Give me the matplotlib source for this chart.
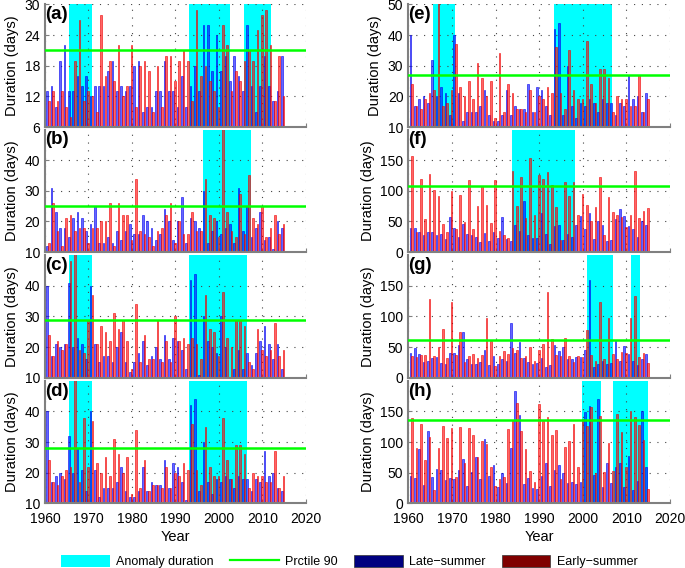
import numpy as np
import matplotlib.pyplot as plt
from matplotlib.patches import Patch
from matplotlib.lines import Line2D

plt.rcParams['font.family'] = ['Liberation Sans', 'DejaVu Sans']

years = np.arange(1961, 2016)

# (a)
a_late = [13, 14, 10, 19, 22, 13, 13, 16, 14, 16, 12, 14, 14, 14, 17, 19, 13, 14, 13, 14, 18, 19, 9, 10, 10,
          13, 13, 19, 13, 13, 10, 16, 10, 14, 18, 13, 26, 26, 17, 24, 17, 20, 15, 20, 16, 13, 26, 14, 9, 14,
          20, 14, 11, 13, 20]
a_early = [11, 13, 11, 13, 10, 8, 19, 27, 11, 13, 12, 9, 28, 16, 19, 15, 22, 12, 14, 22, 10, 18, 19, 17, 9,
           18, 10, 20, 20, 15, 19, 21, 19, 11, 29, 16, 18, 15, 13, 10, 26, 22, 13, 17, 15, 19, 21, 19, 25, 28,
           29, 22, 11, 20, 12]
a_p90 = 21
a_anom = [(1965.6, 1970.85), (1993.2, 2002.5), (2005.85, 2012.0)]

# (b)
b_late = [12, 31, 23, 18, 18, 15, 21, 23, 21, 17, 19, 25, 13, 13, 15, 13, 17, 14, 17, 19, 16, 16, 22, 20, 18,
          14, 16, 24, 20, 14, 20, 28, 13, 21, 20, 18, 30, 13, 17, 20, 16, 18, 19, 13, 31, 17, 25, 15, 18, 23,
          14, 15, 11, 20, 18]
b_early = [13, 26, 17, 12, 21, 22, 17, 18, 18, 13, 18, 18, 20, 20, 26, 12, 26, 22, 22, 14, 34, 17, 16, 15, 12,
           17, 18, 22, 26, 13, 20, 16, 16, 23, 17, 17, 34, 22, 21, 15, 55, 23, 17, 15, 29, 16, 35, 21, 19, 25,
           15, 18, 22, 16, 19]
b_p90 = 25
b_anom = [(1996.3, 2007.4)]

# (c)
c_late = [40, 17, 21, 20, 21, 41, 20, 23, 21, 16, 40, 21, 15, 17, 17, 15, 20, 25, 15, 12, 15, 18, 22, 14, 17,
          20, 16, 24, 16, 23, 22, 19, 13, 42, 44, 11, 30, 22, 20, 18, 30, 20, 10, 13, 19, 13, 18, 14, 18, 22,
          27, 21, 16, 21, 13]
c_early = [24, 17, 22, 19, 21, 48, 52, 19, 18, 29, 37, 21, 27, 25, 22, 31, 26, 29, 22, 13, 34, 15, 24, 16, 16,
           29, 15, 22, 15, 30, 22, 23, 21, 23, 21, 16, 37, 26, 25, 17, 38, 23, 20, 29, 29, 27, 15, 13, 26, 19,
           17, 19, 28, 17, 19]
c_p90 = 29
c_anom = [(1965.6, 1970.8), (1993.2, 2006.5)]

# (d)
d_late = [40, 17, 19, 20, 18, 32, 20, 28, 21, 14, 40, 21, 12, 15, 15, 15, 17, 22, 14, 12, 12, 14, 22, 14, 17,
          16, 16, 24, 15, 23, 22, 17, 11, 42, 44, 14, 30, 17, 13, 18, 17, 19, 18, 15, 19, 18, 18, 14, 18, 17,
          27, 19, 20, 15, 14]
d_early = [24, 17, 16, 19, 21, 22, 52, 17, 38, 22, 37, 23, 20, 25, 19, 31, 26, 20, 25, 13, 34, 15, 24, 14, 16,
           16, 15, 22, 15, 20, 19, 23, 21, 36, 21, 16, 35, 22, 19, 19, 38, 24, 18, 29, 29, 26, 15, 20, 19, 19,
           17, 17, 27, 15, 19]
d_p90 = 28
d_anom = [(1965.6, 1970.8), (1993.2, 2006.5)]

# (e)
e_late = [40, 17, 19, 20, 18, 32, 20, 23, 21, 14, 40, 21, 12, 15, 15, 15, 17, 22, 14, 12, 12, 14, 22, 14, 17,
          16, 16, 24, 15, 23, 22, 17, 14, 42, 44, 14, 30, 17, 13, 18, 17, 19, 18, 15, 19, 18, 18, 14, 18, 17,
          27, 19, 20, 15, 21]
e_early = [24, 17, 16, 19, 21, 22, 52, 17, 18, 22, 37, 23, 20, 25, 19, 31, 26, 20, 25, 13, 34, 15, 24, 21, 16,
           16, 15, 22, 15, 20, 19, 23, 21, 36, 21, 16, 35, 22, 19, 19, 38, 24, 18, 29, 29, 26, 15, 20, 19, 19,
           17, 17, 27, 15, 19]
e_p90 = 27
e_anom = [(1965.7, 1970.8), (1993.3, 2006.6)]

# (f)
f_late = [40, 40, 32, 28, 33, 32, 27, 30, 22, 57, 40, 25, 46, 30, 28, 24, 17, 31, 18, 32, 23, 57, 22, 18, 44,
          35, 83, 27, 23, 23, 63, 30, 13, 42, 44, 20, 30, 25, 44, 59, 38, 63, 22, 50, 44, 18, 20, 54, 70, 59,
          43, 37, 24, 50, 44]
f_early = [156, 33, 119, 54, 127, 102, 92, 45, 32, 100, 37, 93, 49, 118, 37, 75, 107, 77, 48, 118, 34, 28, 23,
           133, 75, 122, 56, 153, 60, 125, 120, 130, 110, 73, 20, 114, 91, 115, 60, 95, 76, 50, 73, 123, 28,
           90, 66, 60, 57, 41, 61, 133, 55, 67, 72]
f_p90 = 107
f_anom = [(1983.8, 1998.1)]

# (g)
g_late = [41, 48, 39, 26, 27, 33, 34, 24, 23, 40, 40, 54, 75, 31, 22, 23, 25, 46, 20, 36, 22, 30, 27, 90, 40,
          58, 33, 25, 22, 24, 33, 17, 21, 54, 44, 50, 31, 30, 34, 34, 46, 160, 17, 23, 27, 22, 24, 60, 27, 52,
          39, 27, 21, 31, 39]
g_early = [35, 34, 37, 37, 128, 36, 50, 79, 33, 123, 37, 74, 26, 35, 38, 33, 37, 97, 60, 19, 35, 43, 38, 48, 46,
           33, 36, 50, 27, 45, 55, 140, 64, 37, 35, 65, 36, 25, 36, 34, 78, 37, 27, 124, 31, 98, 38, 30, 42, 40,
           98, 133, 34, 40, 24]
g_p90 = 62
g_anom = [(2000.9, 2007.0), (2011.0, 2013.1)]

# (h)
h_late = [45, 42, 89, 30, 118, 43, 56, 55, 38, 41, 40, 54, 73, 29, 51, 75, 40, 105, 44, 63, 26, 50, 33, 90, 183,
          144, 32, 42, 25, 24, 44, 65, 29, 54, 62, 50, 33, 35, 31, 34, 149, 159, 47, 171, 26, 66, 33, 59, 65,
          27, 77, 21, 37, 150, 59]
h_early = [140, 91, 129, 71, 108, 21, 91, 127, 106, 123, 43, 124, 65, 123, 111, 75, 102, 97, 60, 29, 39, 43, 122,
           136, 163, 118, 89, 52, 35, 162, 135, 141, 111, 119, 39, 92, 101, 130, 60, 137, 127, 157, 49, 143, 51,
           98, 52, 145, 117, 60, 150, 141, 128, 104, 23]
h_p90 = 136
h_anom = [(1999.9, 2004.1), (2007.0, 2015.0)]

xticks = [1960, 1970, 1980, 1990, 2000, 2010, 2020]

panels = [
    ('(a)', a_late, a_early, a_p90, a_anom, (6, 30), [6, 12, 18, 24, 30]),
    ('(b)', b_late, b_early, b_p90, b_anom, (10, 50), [10, 20, 30, 40]),
    ('(c)', c_late, c_early, c_p90, c_anom, (10, 50), [10, 20, 30, 40]),
    ('(d)', d_late, d_early, d_p90, d_anom, (10, 50), [10, 20, 30, 40]),
    ('(e)', e_late, e_early, e_p90, e_anom, (10, 50), [10, 20, 30, 40, 50]),
    ('(f)', f_late, f_early, f_p90, f_anom, (0, 200), [0, 50, 100, 150]),
    ('(g)', g_late, g_early, g_p90, g_anom, (0, 200), [0, 50, 100, 150]),
    ('(h)', h_late, h_early, h_p90, h_anom, (0, 200), [0, 50, 100, 150]),
]

fig = plt.figure(figsize=(6.85, 5.68), dpi=100)

col_left = [0.0657, 0.596]
col_width = [0.3806, 0.3822]
row_bottom = [0.7764, 0.5563, 0.3350, 0.1139]
row_h = 0.2157

for i, (lab, late, early, p90, anom, ylim, yt) in enumerate(panels):
    col, row = divmod(i, 4)
    ax = fig.add_axes([col_left[col], row_bottom[row], col_width[col], row_h])
    for s, e in anom:
        ax.axvspan(s, e, color='#00ffff', lw=0, zorder=0)
    x = years - 0.3
    ax.bar(x - 0.2, late, width=0.38, facecolor=(0, 0, 1, 0.6), edgecolor='#0000ee', lw=0.4, zorder=2)
    ax.bar(x + 0.2, early, width=0.38, facecolor=(1, 0, 0, 0.6), edgecolor='#ee0000', lw=0.4, zorder=2)
    ax.axhline(p90, color='#00ff00', lw=1.8, zorder=3)

    ax.set_xlim(1960, 2020)
    ax.set_ylim(*ylim)
    ax.set_xticks(xticks)
    ax.set_yticks(yt)
    ax.grid(True, color='#444444', linestyle=(0, (1, 6)), lw=0.8)
    for sp in ['top', 'right']:
        ax.spines[sp].set_visible(False)
    for sp in ['left', 'bottom']:
        ax.spines[sp].set_color('#808080')
        ax.spines[sp].set_linewidth(1.5)
    ax.tick_params(direction='in', length=3, color='#808080', labelsize=10)
    ax.set_ylabel('Duration (days)', fontsize=10.5)
    if row == 3:
        ax.tick_params(axis='x', pad=6)
        ax.set_xlabel('Year', fontsize=10.5, labelpad=3)
    else:
        ax.tick_params(labelbottom=False)
    ax.text(0.0, 0.985, lab, transform=ax.transAxes, fontsize=13.5, fontweight='bold',
            ha='left', va='top', zorder=5)

handles = [Patch(facecolor='#00ffff', edgecolor='none'),
           Line2D([0], [0], color='#00ff00', lw=1.6),
           Patch(facecolor='#000080', edgecolor='#333333', lw=0.5),
           Patch(facecolor='#800000', edgecolor='#333333', lw=0.5)]
labels = ['Anomaly duration', 'Prctile 90', 'Late\u2212summer', 'Early\u2212summer']
fig.legend(handles, labels, loc='lower center', bbox_to_anchor=(0.51, -0.014), ncol=4, frameon=False,
           fontsize=9, handlelength=3.9, handleheight=1.1, columnspacing=1.3, handletextpad=0.5,
           borderpad=0.15)

fig.savefig('out.png', dpi=100)
